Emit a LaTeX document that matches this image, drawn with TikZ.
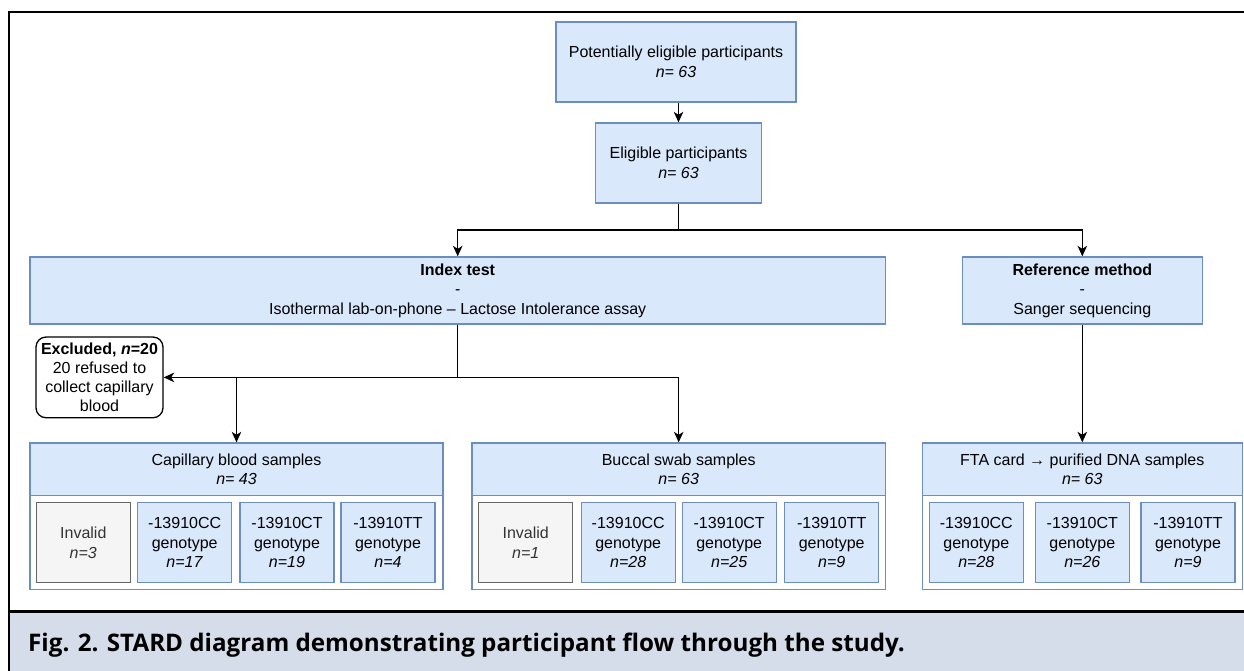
\documentclass[tikz,border=0pt]{standalone}
\usepackage{fontspec}
\setmainfont{Liberation Sans}
\newfontfamily\captionfont{Open Sans}
\usetikzlibrary{arrows.meta}

\definecolor{boxfill}{HTML}{DAE8FC}
\definecolor{boxline}{HTML}{6C8EBF}
\definecolor{grayfill}{HTML}{F5F5F5}
\definecolor{grayline}{HTML}{666666}
\definecolor{graytext}{HTML}{333333}
\definecolor{capband}{HTML}{D5DCEA}

\tikzstyle{box}=[draw=boxline,fill=boxfill,line width=1.3pt,inner sep=0pt,align=center,font=\fontsize{16}{19.5}\selectfont]
\tikzstyle{invalid}=[box,draw=grayline,fill=grayfill,text=graytext]
\tikzstyle{group}=[draw=boxline,fill=white,line width=1.3pt,inner sep=0pt]
\tikzstyle{excl}=[draw=black,fill=white,line width=1.3pt,rounded corners=10pt,inner sep=0pt,align=center,font=\fontsize{16}{19}\selectfont]
\tikzstyle{flow}=[line width=1.4pt]
\tikzset{>={Stealth[length=10.5pt,width=9.5pt,inset=3pt]}}

\begin{document}
\begin{tikzpicture}[x=1pt,y=-1pt]
  \useasboundingbox (0,0) rectangle (1244,671);
  \def \bw {94}
  \def \bh {80}
  \def \gy {542.7}
  % frame and caption band
  \fill[capband] (10,612) rectangle (1244,671);
  \draw[line width=3pt] (9,611.5) -- (1244,611.5);
  \draw[line width=2.2pt] (9,671) -- (9,12) -- (1244,12);
  \node[anchor=base west,inner sep=0pt,font=\captionfont\bfseries\fontsize{24.2}{28}\selectfont] (figcap) at (28,651.7) {Fig. 2. STARD diagram demonstrating participant flow through the study.};

  % top of the flow
  \node[box,minimum width=240pt,minimum height=80pt] (pot) at (676,62) {Potentially eligible participants\\\textit{n= 63}};
  \node[box,minimum width=165.6pt,minimum height=80pt] (elig) at (678.5,163) {Eligible participants\\\textit{n= 63}};
  \node[box,minimum width=855.3pt,minimum height=67pt] (index) at (457.7,290.5) {\textbf{Index test}\\-\\Isothermal lab-on-phone \textendash{} Lactose Intolerance assay};
  \node[box,minimum width=240pt,minimum height=67pt] (ref) at (1082.3,290.5) {\textbf{Reference method}\\-\\Sanger sequencing};
  \node[excl,minimum width=127pt,minimum height=80.7pt] (excl) at (99.5,377.4) {\textbf{Excluded, \textit{n}=20}\\20 refused to\\collect capillary\\blood};

  % sample groups
  \node[group,minimum width=413pt,minimum height=146.3pt] (cap) at (236.5,516.15) {};
  \node[box,minimum width=413pt,minimum height=52.7pt] (caphead) at (236.5,469.35) {Capillary blood samples\\\textit{n= 43}};
  \node[group,minimum width=413.3pt,minimum height=146.3pt] (buc) at (678.7,516.15) {};
  \node[box,minimum width=413.3pt,minimum height=52.7pt] (buchead) at (678.7,469.35) {Buccal swab samples\\\textit{n= 63}};
  \node[group,minimum width=320pt,minimum height=146.3pt] (fta) at (1082.3,516.15) {};
  \node[box,minimum width=320pt,minimum height=52.7pt] (ftahead) at (1082.3,469.35) {FTA card \textrightarrow{} purified DNA samples\\\textit{n= 63}};

  % genotype boxes
  \node[invalid,minimum width=\bw pt,minimum height=\bh pt] (capinv) at (83.3,\gy) {Invalid\\\textit{n=3}};
  \node[box,minimum width=\bw pt,minimum height=\bh pt] (capcc) at (184.7,\gy) {-13910CC\\genotype\\\textit{n=17}};
  \node[box,minimum width=\bw pt,minimum height=\bh pt] (capct) at (287,\gy) {-13910CT\\genotype\\\textit{n=19}};
  \node[box,minimum width=\bw pt,minimum height=\bh pt] (captt) at (388,\gy) {-13910TT\\genotype\\\textit{n=4}};

  \node[invalid,minimum width=\bw pt,minimum height=\bh pt] (bucinv) at (525.7,\gy) {Invalid\\\textit{n=1}};
  \node[box,minimum width=\bw pt,minimum height=\bh pt] (buccc) at (628.2,\gy) {-13910CC\\genotype\\\textit{n=28}};
  \node[box,minimum width=\bw pt,minimum height=\bh pt] (bucct) at (729.2,\gy) {-13910CT\\genotype\\\textit{n=25}};
  \node[box,minimum width=\bw pt,minimum height=\bh pt] (buctt) at (831.7,\gy) {-13910TT\\genotype\\\textit{n=9}};

  \node[box,minimum width=\bw pt,minimum height=\bh pt] (ftacc) at (976.3,\gy) {-13910CC\\genotype\\\textit{n=28}};
  \node[box,minimum width=\bw pt,minimum height=\bh pt] (ftact) at (1082.3,\gy) {-13910CT\\genotype\\\textit{n=26}};
  \node[box,minimum width=\bw pt,minimum height=\bh pt] (ftatt) at (1188,\gy) {-13910TT\\genotype\\\textit{n=9}};

  % connectors
  \draw[flow,->] (elig.north |- pot.south) -- (elig.north);
  \coordinate (split) at (elig.south |- 0,230);
  \draw[flow] (elig.south) -- (split);
  \draw[flow,->] (split) -| (index.north);
  \draw[flow,->] (split) -| (ref.north);
  \coordinate (ijoin) at (index.south |- excl.east);
  \draw[flow] (index.south) -- (ijoin);
  \draw[flow,->] (ijoin) -- (excl.east);
  \draw[flow,->] (ijoin) -| (buchead.north);
  \draw[flow,->] (caphead.north |- ijoin) -- (caphead.north);
  \draw[flow,->] (ref.south) -- (ftahead.north);
\end{tikzpicture}
\end{document}
